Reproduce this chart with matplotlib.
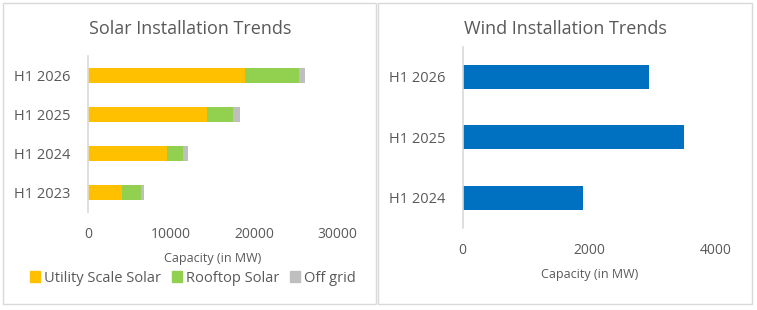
import numpy as np
import matplotlib.pyplot as plt
from matplotlib.patches import Rectangle, Patch

plt.rcParams['font.family'] = ['Open Sans', 'DejaVu Sans']

solar_periods = ['H1 2023', 'H1 2024', 'H1 2025', 'H1 2026']
utility_solar = [4100, 9500, 14300, 18900]
rooftop_solar = [2300, 1900, 3200, 6500]
off_grid = [300, 600, 800, 800]

wind_periods = ['H1 2024', 'H1 2025', 'H1 2026']
wind_capacity = [1900, 3500, 2940]

W, H = 757, 310
txt = '#595959'
grid_c = '#D9D9D9'

fig = plt.figure(figsize=(W / 100, H / 100), dpi=100)

# panel frames
for x0, x1 in [(3, 376), (378, 752)]:
    fig.add_artist(Rectangle((x0 / W, 1 - 304 / H), (x1 - x0) / W, 301 / H,
                             transform=fig.transFigure, fill=False,
                             edgecolor='#D9D9D9', lw=1.0))

def px_axes(l, t, r, b):
    return fig.add_axes([l / W, 1 - b / H, (r - l) / W, (b - t) / H])

def style(ax):
    for s in ['top', 'right', 'bottom']:
        ax.spines[s].set_visible(False)
    ax.spines['left'].set_color(grid_c)
    ax.spines['left'].set_linewidth(1.2)
    ax.tick_params(axis='both', length=0, colors=txt)
    ax.tick_params(axis='y', labelsize=10.5, pad=12.5)
    ax.tick_params(axis='x', labelsize=10, pad=11)

# ---- Solar
ax1 = px_axes(88, 55.7, 337, 211.7)
y = np.arange(len(solar_periods))
u = np.array(utility_solar)
r = np.array(rooftop_solar)
o = np.array(off_grid)
ax1.barh(y, u, height=0.38, color='#FFC000')
ax1.barh(y, r, left=u, height=0.38, color='#92D050')
ax1.barh(y, o, left=u + r, height=0.38, color='#BFBFBF')
ax1.set_ylim(-0.5, len(y) - 0.5)
ax1.set_xlim(0, 30000)
ax1.set_xticks([0, 10000, 20000, 30000])
ax1.set_yticks(y)
ax1.set_yticklabels(solar_periods)
style(ax1)
ax1.set_xlabel('Capacity (in MW)', fontsize=9, color=txt, labelpad=7)
fig.text(190 / W, 1 - 29 / H, 'Solar Installation Trends', ha='center', va='center',
         fontsize=13, color=txt)

handles = [Patch(color='#FFC000', label='Utility Scale Solar'),
           Patch(color='#92D050', label='Rooftop Solar'),
           Patch(color='#BFBFBF', label='Off grid')]
fig.legend(handles=handles, loc='center', bbox_to_anchor=(193 / W, 1 - 278 / H),
           ncol=3, frameon=False, fontsize=10.5, labelcolor=txt,
           handlelength=0.7, handleheight=0.7, handletextpad=0.3, columnspacing=0.7)

# ---- Wind
ax2 = px_axes(462.7, 46.5, 716, 228)
y2 = np.arange(len(wind_periods))
ax2.barh(y2, wind_capacity, height=0.40, color='#0070C0')
ax2.set_ylim(-0.5, len(y2) - 0.5)
ax2.set_xlim(0, 4000)
ax2.set_xticks([0, 2000, 4000])
ax2.set_yticks(y2)
ax2.set_yticklabels(wind_periods)
style(ax2)
ax2.set_xlabel('Capacity (in MW)', fontsize=9, color=txt, labelpad=7)
fig.text(565 / W, 1 - 29 / H, 'Wind Installation Trends', ha='center', va='center',
         fontsize=13, color=txt)

fig.savefig('out.png', dpi=100)
